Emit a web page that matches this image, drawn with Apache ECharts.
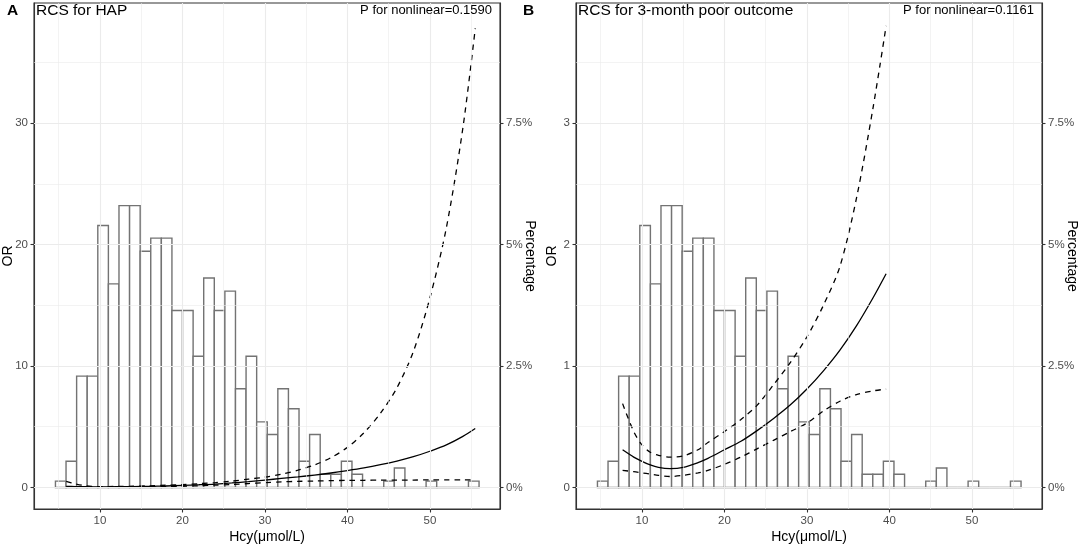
<html lang="en">
<head>
<meta charset="UTF-8">
<title>RCS Hcy</title>
<script src="https://cdn.jsdelivr.net/npm/echarts@6.0.0/dist/echarts.min.js"></script>
<style>
html, body { margin: 0; padding: 0; background: #fff; }
#main { width: 1084px; height: 549px; }
</style>
</head>
<body>
<div id="main"></div>
<script type="text/javascript">
// histogram of Hcy (same in both panels): 40 bins, percentage per bin
var binStart = 4.6;
var binWidth = 1.284;
var binPct = [0.13, 0.54, 2.29, 2.29, 5.39, 4.19, 5.80, 5.80, 4.86, 5.13,
              5.13, 3.64, 3.64, 2.70, 4.31, 3.64, 4.04, 2.03, 2.70, 1.35,
              1.09, 2.03, 1.62, 0.54, 1.09, 0.27, 0.27, 0.54, 0.27, 0,
              0, 0.13, 0.40, 0, 0, 0.13, 0, 0, 0, 0.13];

// panel A: RCS for HAP
var hcyA   = [5.9, 7, 8, 9, 10, 12, 14, 16, 18, 20, 22, 24, 26, 28, 30, 32, 34, 36, 38, 40, 42, 44, 46, 48, 50, 52, 54, 55.5];
var orA    = [0.09, 0.07, 0.06, 0.05, 0.05, 0.06, 0.07, 0.09, 0.12, 0.17, 0.22, 0.28, 0.37, 0.48, 0.61, 0.74, 0.87, 1.02, 1.19, 1.39, 1.61, 1.87, 2.17, 2.53, 2.98, 3.5, 4.2, 4.85];
var upperA = [0.5, 0.3, 0.16, 0.09, 0.07, 0.08, 0.1, 0.13, 0.18, 0.24, 0.31, 0.4, 0.52, 0.68, 0.85, 1.1, 1.42, 1.85, 2.45, 3.3, 4.5, 6.1, 8.2, 11.2, 15.6, 21.4, 29.6, 37.8];
var lowerA = [0.03, 0.02, 0.02, 0.02, 0.02, 0.03, 0.04, 0.05, 0.07, 0.1, 0.14, 0.19, 0.25, 0.32, 0.4, 0.46, 0.5, 0.53, 0.56, 0.58, 0.59, 0.6, 0.61, 0.61, 0.62, 0.62, 0.63, 0.63];

// panel B: RCS for 3-month poor outcome
var hcyB   = [7.65, 9, 10, 11, 12, 13.4, 15, 16.8, 18, 20, 22, 24, 26, 28, 30, 32, 34, 36, 38, 39.6];
var orB    = [0.31, 0.25, 0.215, 0.185, 0.165, 0.155, 0.165, 0.205, 0.24, 0.31, 0.38, 0.47, 0.57, 0.68, 0.81, 0.96, 1.13, 1.33, 1.56, 1.76];
var upperB = [0.69, 0.46, 0.35, 0.29, 0.265, 0.25, 0.26, 0.31, 0.37, 0.46, 0.56, 0.68, 0.85, 1.03, 1.24, 1.5, 1.82, 2.38, 3.12, 3.8];
var lowerB = [0.14, 0.13, 0.12, 0.11, 0.10, 0.09, 0.10, 0.12, 0.14, 0.19, 0.25, 0.32, 0.39, 0.46, 0.53, 0.63, 0.71, 0.765, 0.795, 0.81];

var xTicks = [10, 20, 30, 40, 50];
var xMinor = [5, 15, 25, 35, 45, 55];
var orTicksA = [0, 10, 20, 30];
var orMinorA = [5, 15, 25, 35];
var orTicksB = [0, 1, 2, 3];
var orMinorB = [0.5, 1.5, 2.5, 3.5];
var pctTicks = [0, 2.5, 5, 7.5];

var FONT = '"Liberation Sans", Arial, Helvetica, sans-serif';

function pairs(xs, ys) {
	return xs.map(function(x, i){ return [x, ys[i]]; });
}
var histData = binPct.map(function(p, i){
	return [binStart + i * binWidth, binStart + (i + 1) * binWidth, p];
});

// ggplot style grid: thin minor lines, thicker major lines
function gridLines(xs, xm, ys, ym) {
	var d = [];
	xm.forEach(function(v){ d.push({xAxis: v, lineStyle: {width: 0.6}}); });
	ym.forEach(function(v){ d.push({yAxis: v, lineStyle: {width: 0.6}}); });
	xs.forEach(function(v){ d.push({xAxis: v, lineStyle: {width: 1.1}}); });
	ys.forEach(function(v){ d.push({yAxis: v, lineStyle: {width: 1.1}}); });
	return d;
}

function xAxisOf(gi) {
	return {
		type: 'value', gridIndex: gi, min: 2.0, max: 58.5,
		name: 'Hcy(μmol/L)', nameLocation: 'middle', nameGap: 21, nameMoveOverlap: false,
		nameTextStyle: {fontSize: 14, color: '#000', fontFamily: FONT},
		axisLine: {show: true, onZero: false, lineStyle: {color: '#333', width: 1.1}},
		axisTick: {show: true, length: 3.5, customValues: xTicks, lineStyle: {color: '#333', width: 1.1}},
		axisLabel: {customValues: xTicks, margin: 6, fontSize: 11.5, color: '#4d4d4d', fontFamily: FONT},
		splitLine: {show: false}
	};
}
function orAxisOf(gi, mn, mx, ticks, gap) {
	return {
		type: 'value', gridIndex: gi, position: 'left', min: mn, max: mx,
		name: 'OR', nameLocation: 'middle', nameGap: gap, nameRotate: 90, nameMoveOverlap: false,
		nameTextStyle: {fontSize: 14, color: '#000', fontFamily: FONT},
		axisLine: {show: true, onZero: false, lineStyle: {color: '#333', width: 1.1}},
		axisTick: {show: true, length: 3.5, customValues: ticks, lineStyle: {color: '#333', width: 1.1}},
		axisLabel: {customValues: ticks, margin: 6, fontSize: 11.5, color: '#4d4d4d', fontFamily: FONT},
		splitLine: {show: false}
	};
}
function pctAxisOf(gi) {
	return {
		type: 'value', gridIndex: gi, position: 'right', min: -0.444, max: 9.97,
		name: 'Percentage', nameLocation: 'middle', nameGap: 23, nameRotate: -90, nameMoveOverlap: false,
		nameTextStyle: {fontSize: 14, color: '#000', fontFamily: FONT},
		axisLine: {show: true, onZero: false, lineStyle: {color: '#333', width: 1.1}},
		axisTick: {show: true, length: 3.5, customValues: pctTicks, lineStyle: {color: '#333', width: 1.1}},
		axisLabel: {customValues: pctTicks, margin: 6, fontSize: 11.5, color: '#4d4d4d', fontFamily: FONT,
			formatter: function(v){ return v + '%'; }},
		splitLine: {show: false}
	};
}

function histSeries(xi, yi) {
	return {
		type: 'custom', xAxisIndex: xi, yAxisIndex: yi, z: 2, silent: true,
		data: histData,
		encode: {x: [0, 1], y: 2},
		renderItem: function(params, api) {
			var p0 = api.coord([api.value(0), 0]);
			var p1 = api.coord([api.value(1), api.value(2)]);
			return {
				type: 'rect',
				shape: {x: p0[0], y: p1[1], width: p1[0] - p0[0], height: p0[1] - p1[1]},
				style: {fill: '#fff', stroke: '#737373', lineWidth: 1.4}
			};
		}
	};
}
function curve(xi, yi, xs, ys, dashed) {
	return {
		type: 'line', xAxisIndex: xi, yAxisIndex: yi, z: 3, silent: true,
		data: pairs(xs, ys), showSymbol: false, smooth: 0.3,
		lineStyle: {color: '#000', width: 1.3, type: dashed ? [5.5, 5] : 'solid'}
	};
}
function gridSeries(xi, yi, data) {
	return {
		type: 'line', xAxisIndex: xi, yAxisIndex: yi, z: 1, silent: true, data: [],
		markLine: {silent: true, symbol: ['none', 'none'], label: {show: false},
			lineStyle: {color: '#ebebeb', type: 'solid'}, data: data}
	};
}

var chart = echarts.init(document.getElementById('main'));
var option = {
	animation: false,
	backgroundColor: '#fff',
	textStyle: {fontFamily: FONT},
	title: [
		{text: 'A', left: 7, top: 3, padding: 0, textStyle: {fontSize: 15.5, fontWeight: 'bold', color: '#000', fontFamily: FONT}},
		{text: 'RCS for HAP', left: 36, top: 3, padding: 0, textStyle: {fontSize: 15.5, fontWeight: 'normal', color: '#000', fontFamily: FONT}},
		{text: 'P for nonlinear=0.1590', right: 592, top: 4, padding: 0, textStyle: {fontSize: 13, fontWeight: 'normal', color: '#000', fontFamily: FONT}},
		{text: 'B', left: 523, top: 3, padding: 0, textStyle: {fontSize: 15.5, fontWeight: 'bold', color: '#000', fontFamily: FONT}},
		{text: 'RCS for 3-month poor outcome', left: 578, top: 3, padding: 0, textStyle: {fontSize: 15.5, fontWeight: 'normal', color: '#000', fontFamily: FONT}},
		{text: 'P for nonlinear=0.1161', right: 50, top: 4, padding: 0, textStyle: {fontSize: 13, fontWeight: 'normal', color: '#000', fontFamily: FONT}}
	],
	grid: [
		{left: 34, top: 3, width: 466, height: 507, show: true, borderColor: '#333', borderWidth: 1.1},
		{left: 576, top: 3, width: 466, height: 507, show: true, borderColor: '#333', borderWidth: 1.1}
	],
	xAxis: [xAxisOf(0), xAxisOf(1)],
	yAxis: [
		orAxisOf(0, -1.775, 39.89, orTicksA, 19),
		pctAxisOf(0),
		orAxisOf(1, -0.1775, 3.989, orTicksB, 17),
		pctAxisOf(1)
	],
	series: [
		gridSeries(0, 0, gridLines(xTicks, xMinor, orTicksA, orMinorA)),
		histSeries(0, 1),
		curve(0, 0, hcyA, upperA, true),
		curve(0, 0, hcyA, lowerA, true),
		curve(0, 0, hcyA, orA, false),
		gridSeries(1, 2, gridLines(xTicks, xMinor, orTicksB, orMinorB)),
		histSeries(1, 3),
		curve(1, 2, hcyB, upperB, true),
		curve(1, 2, hcyB, lowerB, true),
		curve(1, 2, hcyB, orB, false)
	]
};
chart.setOption(option);
</script>
</body>
</html>
